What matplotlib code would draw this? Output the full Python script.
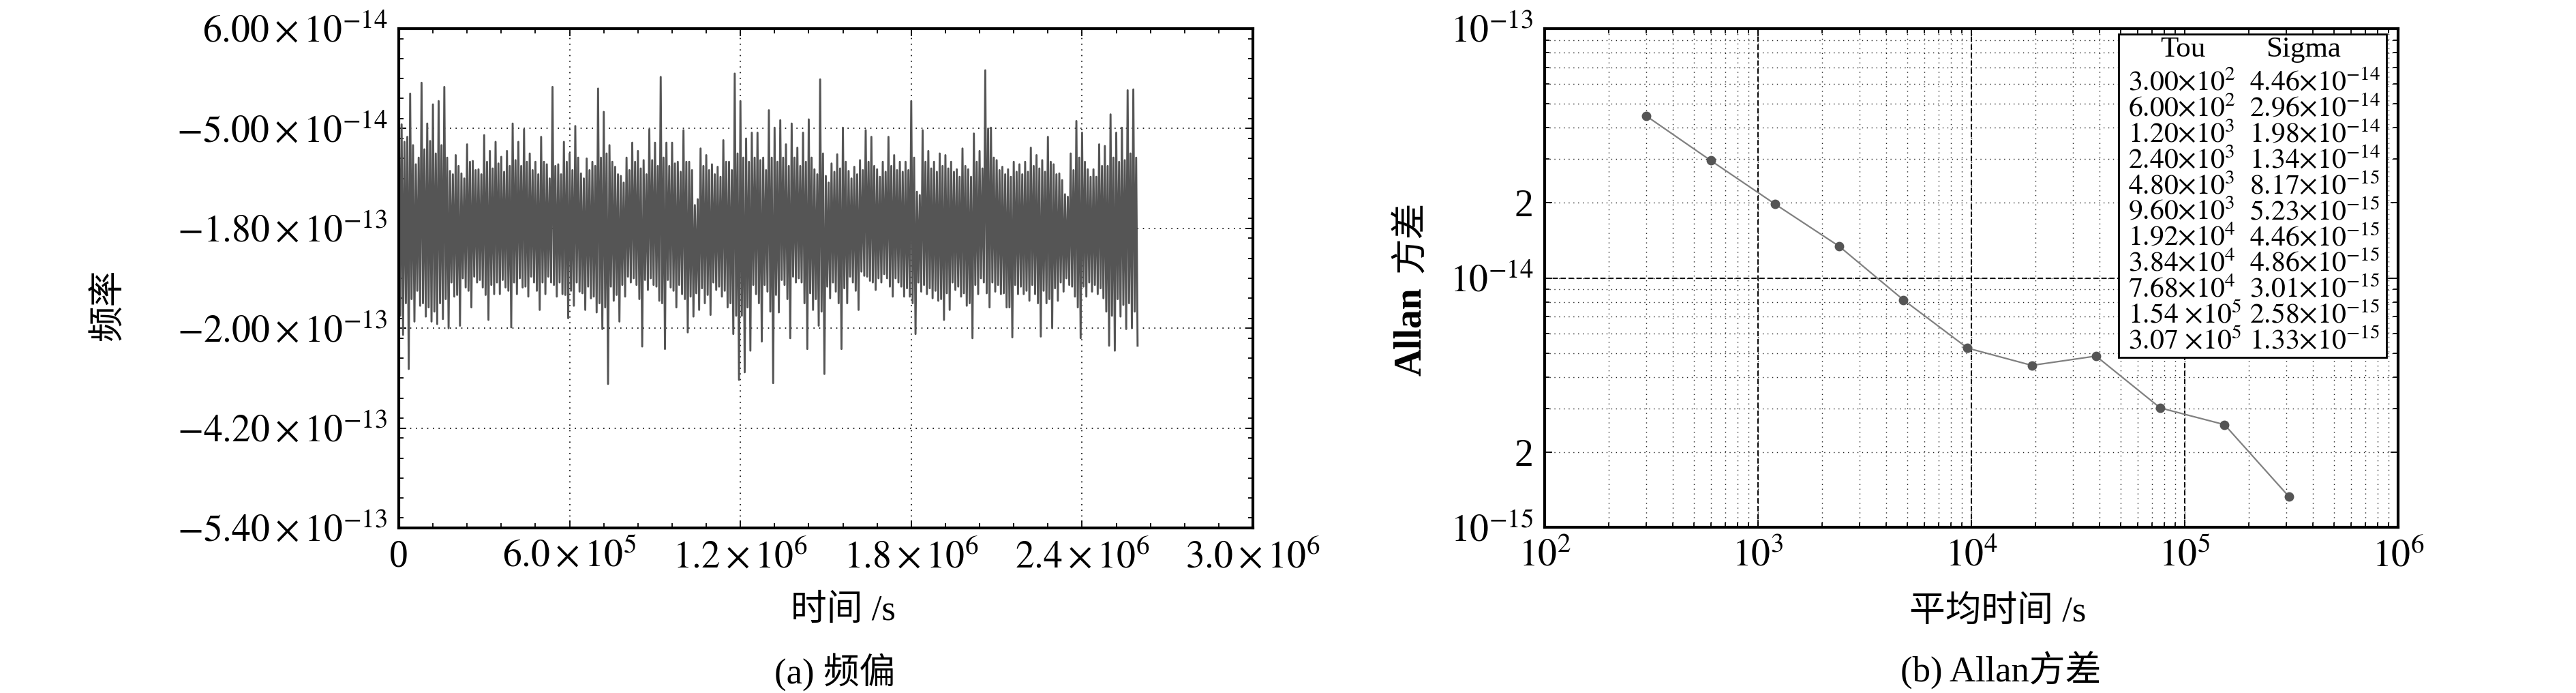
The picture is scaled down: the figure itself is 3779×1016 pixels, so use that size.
import numpy as np
import matplotlib
matplotlib.use("Agg")
import matplotlib.pyplot as plt
from matplotlib.patches import Rectangle
from matplotlib.ticker import FixedLocator, MultipleLocator, LogLocator, NullFormatter

plt.rcParams["font.family"] = ["Liberation Serif", "Noto Sans CJK SC"]
plt.rcParams["mathtext.fontset"] = "stix"
plt.rcParams["axes.unicode_minus"] = True

# ---- panel (a): frequency offset trace, values in units of 1e-13 ----
# one column every 2e4 s: extreme high / low of the trace, and the level of the
# dense inner lines (mid) in that column
col_step = 2.0e4
col_hi = [-0.10, -0.76, -0.18, -1.03, -0.05, -0.54, -0.31, -0.27, -0.10, -1.11,
          -0.92, -1.14, -0.79, -0.99, -1.09, -0.68, -0.87, -0.76, -0.94, -0.87,
          -0.54, -0.76, -0.61, -0.90, -1.00, -0.70, -1.03, -0.10, -1.03, -0.76,
          -0.90, -0.57, -1.14, -0.96, -1.00, -0.12, -0.40, -0.80, -1.06, -1.17,
          -0.95, -0.77, -0.87, -0.98, -0.61, -0.77, 0.02, -0.77, -0.77, -1.00,
          -0.62, -1.00, -1.52, -0.84, -0.92, -1.03, -1.06, -0.74, -1.00, 0.06,
          -0.27, -0.72, -0.65, -0.65, -0.95, -0.38, -0.59, -0.50, -0.79, -0.54,
          -0.83, -0.65, -0.49, -1.09, -0.01, -1.17, -1.02, -0.91, -0.59, -1.11,
          -1.06, -0.98, -0.62, -0.70, -1.09, -1.00, -0.70, -0.92, -1.00, -1.00,
          -0.27, -1.36, -0.62, -0.87, -1.00, -0.90, -0.92, -1.00, -1.09, -0.84,
          -1.09, -0.66, -0.87, 0.10, -0.59, -0.98, -1.06, -1.09, -1.00, -1.03,
          -1.00, -0.83, -0.92, -0.98, -0.70, -1.03, -1.14, -1.39, -0.90, -0.51,
          -0.65, -1.09, -1.09, -0.79, -0.81, -0.43, -0.65, -0.59, -0.14, -0.13]
col_lo = [-3.08, -3.49, -2.92, -2.73, -2.86, -2.92, -2.95, -2.89, -3.00, -2.62,
          -2.97, -2.51, -2.75, -2.45, -2.51, -2.90, -2.59, -2.59, -2.51, -2.99,
          -2.59, -2.51, -2.62, -2.45, -2.78, -2.59, -2.45, -2.62, -2.59, -2.88,
          -2.73, -2.56, -2.78, -2.64, -2.81, -3.01, -3.67, -2.67, -2.92, -2.62,
          -2.45, -2.48, -3.22, -2.54, -2.48, -2.67, -3.25, -2.51, -2.75, -2.59,
          -3.05, -2.86, -2.78, -2.70, -2.84, -2.54, -2.62, -2.75, -3.07, -3.62,
          -3.53, -3.27, -2.59, -3.16, -2.56, -3.66, -2.81, -2.48, -3.12, -2.45,
          -2.45, -3.25, -2.78, -2.97, -3.55, -2.64, -2.56, -3.25, -2.70, -2.45,
          -2.78, -2.37, -2.43, -2.54, -2.45, -2.40, -2.62, -2.45, -2.62, -2.62,
          -3.07, -2.56, -2.59, -2.64, -2.67, -2.90, -2.78, -2.54, -2.62, -2.73,
          -3.12, -2.59, -2.45, -2.75, -2.56, -2.59, -2.75, -3.11, -2.59, -2.59,
          -2.67, -2.59, -3.10, -2.70, -3.00, -2.67, -2.56, -2.48, -2.62, -3.12,
          -2.62, -2.56, -2.59, -2.64, -3.21, -3.27, -2.86, -3.01, -3.00, -3.21]
mid_hi = [-0.55, -0.70, -0.80, -0.95, -0.85, -0.75, -0.90, -0.80, -0.95, -1.15,
          -1.05, -1.20, -1.00, -1.10, -1.15, -1.00, -1.08, -1.02, -1.12, -1.05,
          -0.98, -1.05, -1.00, -1.10, -1.15, -1.00, -1.20, -1.05, -1.15, -1.00,
          -1.10, -0.95, -1.20, -1.10, -1.05, -0.95, -0.90, -1.00, -1.15, -1.25,
          -1.10, -1.00, -1.08, -1.15, -0.98, -1.05, -0.95, -1.05, -1.02, -1.12,
          -1.00, -1.10, -1.45, -1.05, -1.10, -1.15, -1.18, -1.00, -1.10, -0.90,
          -0.95, -1.00, -0.95, -0.98, -1.10, -0.95, -1.00, -0.95, -1.05, -0.95,
          -1.05, -1.00, -0.95, -1.15, -0.90, -1.25, -1.12, -1.08, -1.00, -1.20,
          -1.15, -1.10, -1.00, -1.05, -1.18, -1.12, -1.05, -1.10, -1.12, -1.10,
          -0.95, -1.40, -1.00, -1.08, -1.12, -1.05, -1.08, -1.12, -1.18, -1.05,
          -1.18, -1.00, -1.08, -0.60, -0.95, -1.10, -1.15, -1.18, -1.12, -1.15,
          -1.12, -1.05, -1.08, -1.12, -1.00, -1.15, -1.22, -1.42, -1.10, -0.95,
          -1.00, -1.18, -1.18, -1.05, -1.05, -0.95, -1.00, -0.98, -0.90, -0.95]
mid_lo = [-2.85, -2.70, -2.65, -2.55, -2.70, -2.75, -2.80, -2.70, -2.65, -2.45,
          -2.60, -2.40, -2.55, -2.38, -2.42, -2.60, -2.48, -2.45, -2.42, -2.55,
          -2.45, -2.40, -2.50, -2.38, -2.55, -2.45, -2.38, -2.48, -2.45, -2.60,
          -2.55, -2.45, -2.58, -2.50, -2.62, -2.70, -2.75, -2.50, -2.60, -2.48,
          -2.38, -2.40, -2.65, -2.42, -2.40, -2.50, -2.70, -2.42, -2.55, -2.48,
          -2.65, -2.62, -2.58, -2.52, -2.60, -2.45, -2.50, -2.55, -2.70, -2.85,
          -2.85, -2.75, -2.48, -2.70, -2.48, -2.80, -2.60, -2.42, -2.65, -2.38,
          -2.40, -2.70, -2.58, -2.65, -2.80, -2.50, -2.45, -2.70, -2.52, -2.38,
          -2.55, -2.32, -2.38, -2.45, -2.40, -2.35, -2.50, -2.40, -2.50, -2.52,
          -2.70, -2.45, -2.48, -2.52, -2.55, -2.65, -2.58, -2.45, -2.50, -2.58,
          -2.70, -2.48, -2.40, -2.58, -2.45, -2.48, -2.58, -2.75, -2.48, -2.50,
          -2.55, -2.48, -2.70, -2.55, -2.65, -2.52, -2.45, -2.40, -2.50, -2.75,
          -2.50, -2.45, -2.48, -2.52, -2.80, -2.85, -2.65, -2.72, -2.70, -2.80]

a_xticks = [0, 6e5, 1.2e6, 1.8e6, 2.4e6, 3.0e6]
a_xlabels = ["0", r"$6.0\times10^{5}$", r"$1.2\times10^{6}$", r"$1.8\times10^{6}$",
             r"$2.4\times10^{6}$", r"$3.0\times10^{6}$"]
a_yticks = [-5.4, -4.2, -3.0, -1.8, -0.6, 0.6]
a_ylabels = [r"$-5.40\times10^{-13}$", r"$-4.20\times10^{-13}$", r"$-2.00\times10^{-13}$",
             r"$-1.80\times10^{-13}$", r"$-5.00\times10^{-14}$", r"$6.00\times10^{-14}$"]

# ---- panel (b): Allan deviation ----
tau = [300, 600, 1200, 2400, 4800, 9600, 19200, 38400, 76800, 153600, 307200]
sigma = [4.46e-14, 2.96e-14, 1.98e-14, 1.34e-14, 8.17e-15, 5.23e-15, 4.46e-15,
         4.86e-15, 3.01e-15, 2.58e-15, 1.33e-15]
b_xticks = [1e2, 1e3, 1e4, 1e5, 1e6]
b_xlabels = [r"$10^{2}$", r"$10^{3}$", r"$10^{4}$", r"$10^{5}$", r"$10^{6}$"]
b_yticks = [1e-15, 2e-15, 1e-14, 2e-14, 1e-13]
b_ylabels = [r"$10^{-15}$", "2", r"$10^{-14}$", "2", r"$10^{-13}$"]

TRACE = "#555555"
W, H = 3780, 1016
fig = plt.figure(figsize=(W / 100, H / 100), dpi=100)


def fx(px):
    return px / W


def fy(py):
    return 1 - py / H


def sci(v, gap=False):
    e = int(np.floor(np.log10(v)))
    m = v / 10 ** e
    sp = r"\ " if gap else ""
    return rf"${m:.2f}{sp}{{\times}}10^{{{e}}}$"


# ---------------- panel (a) ----------------
ax1 = fig.add_axes([fx(585), fy(774), fx(1838) - fx(585), fy(42) - fy(774)])
n = len(col_hi)
t_col = np.arange(n) * col_step
zig_t = np.empty(4 * n)
zig_v = np.empty(4 * n)
q = col_step / 4
zig_t[0::4], zig_v[0::4] = t_col, col_hi
zig_t[1::4], zig_v[1::4] = t_col + q, mid_lo
zig_t[2::4], zig_v[2::4] = t_col + 2 * q, mid_hi
zig_t[3::4], zig_v[3::4] = t_col + 3 * q, col_lo
ax1.plot(zig_t, zig_v * 1e-13, color=TRACE, lw=2.1, zorder=2)

ax1.set_xlim(0, 3.0e6)
ax1.set_ylim(-5.4e-13, 0.6e-13)
ax1.set_xticks(a_xticks)
ax1.set_xticklabels(a_xlabels)
ax1.set_yticks(np.array(a_yticks) * 1e-13)
ax1.set_yticklabels(a_ylabels)
ax1.xaxis.set_minor_locator(MultipleLocator(1.2e5))
ax1.yaxis.set_minor_locator(MultipleLocator(0.24e-13))
ax1.grid(True, which="major", ls=(0, (1, 4)), color="k", lw=1.2)

# ---------------- panel (b) ----------------
ax2 = fig.add_axes([fx(2266), fy(773), fx(3518) - fx(2266), fy(42) - fy(773)])
ax2.set_xscale("log")
ax2.set_yscale("log")
ax2.plot(tau, sigma, color="#808080", lw=1.6, marker="o", ms=9,
         mfc="#555555", mec="#555555", zorder=3)
ax2.set_xlim(1e2, 1e6)
ax2.set_ylim(1e-15, 1e-13)
ax2.xaxis.set_major_locator(FixedLocator(b_xticks))
ax2.set_xticklabels(b_xlabels)
ax2.xaxis.set_minor_locator(LogLocator(base=10, subs=np.arange(2, 10), numticks=20))
ax2.xaxis.set_minor_formatter(NullFormatter())
ax2.yaxis.set_major_locator(FixedLocator(b_yticks))
ax2.set_yticklabels(b_ylabels)
ax2.yaxis.set_minor_locator(LogLocator(base=10, subs=np.arange(2, 10), numticks=20))
ax2.yaxis.set_minor_formatter(NullFormatter())
ax2.grid(True, which="both", ls=(0, (1, 4)), color="#222222", lw=1.0)
# decade grid lines are dashed
for xv in b_xticks[1:-1]:
    ax2.axvline(xv, ls=(0, (4, 2)), color="k", lw=1.4, zorder=1.5)
ax2.axhline(1e-14, ls=(0, (4, 2)), color="k", lw=1.4, zorder=1.5)

# table of values
box = Rectangle((0.6725, 0.3406), 0.9864 - 0.6725, 0.989 - 0.3406, transform=ax2.transAxes,
                facecolor="white", edgecolor="black", lw=2.0, zorder=5)
ax2.add_patch(box)
ax2.text(0.748, 0.958, "Tou", transform=ax2.transAxes, ha="center", va="center",
         fontsize=31, zorder=6)
ax2.text(0.889, 0.958, "Sigma", transform=ax2.transAxes, ha="center", va="center",
         fontsize=31, zorder=6)
for i, (t, s) in enumerate(zip(tau, sigma)):
    yy = (773 - (122 + 37.8 * i)) / 731
    ax2.text(0.684, yy, sci(t, gap=t >= 1e5), transform=ax2.transAxes, ha="left",
             va="center", fontsize=30, zorder=6)
    ax2.text(0.826, yy, sci(s), transform=ax2.transAxes, ha="left", va="center",
             fontsize=30, zorder=6)

for ax in (ax1, ax2):
    for sp in ax.spines.values():
        sp.set_linewidth(3.0)
        sp.set_zorder(4)
    ax.tick_params(which="both", direction="in", top=True, right=True, labelsize=40,
                   width=1.3, pad=12)
    ax.tick_params(which="major", length=8)
    ax.tick_params(which="minor", length=5)

# labels
fig.text(fx(160), fy(447), "频率", rotation=90, ha="center", va="center", fontsize=38)
fig.text(fx(1237), fy(896), "时间 /s", ha="center", va="center", fontsize=38)
fig.text(fx(1225), fy(985), "(a) 频偏", ha="center", va="center", fontsize=38)
fig.text(fx(2070), fy(486), "Allan", rotation=90, ha="center", va="center",
         fontsize=40, fontweight="bold")
fig.text(fx(2070), fy(347), "方差", rotation=90, ha="center", va="center", fontsize=38)
fig.text(fx(2931), fy(898), "平均时间 /s", ha="center", va="center", fontsize=38)
fig.text(fx(2935), fy(983), "(b) Allan方差", ha="center", va="center", fontsize=38)

fig.savefig("out.png", dpi=100)
